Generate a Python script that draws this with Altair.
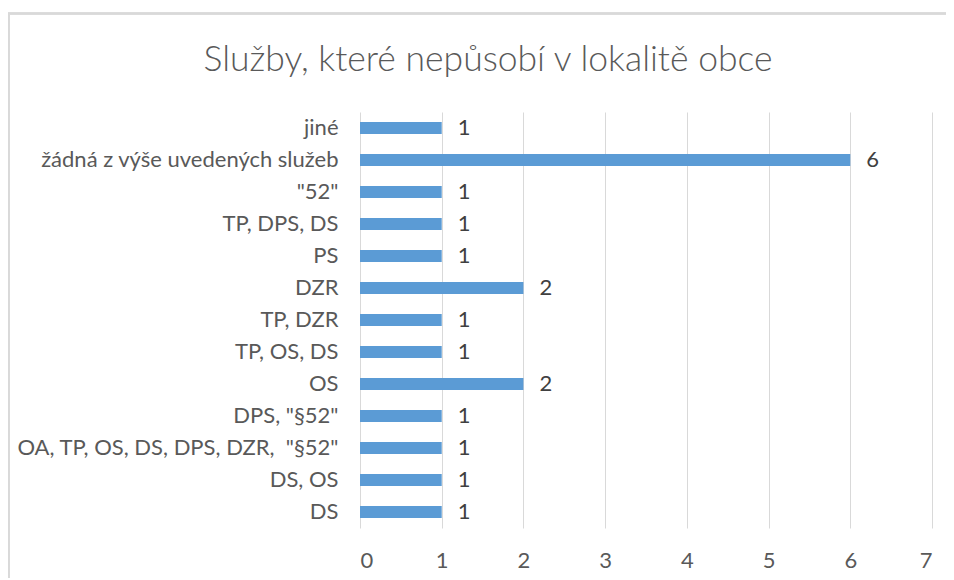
import altair as alt
import pandas as pd

title_text = "Služby, které nepůsobí v lokalitě obce"
categories = [
    "jiné",
    "žádná z výše uvedených služeb",
    '"52"',
    "TP, DPS, DS",
    "PS",
    "DZR",
    "TP, DZR",
    "TP, OS, DS",
    "OS",
    'DPS, "§52"',
    'OA, TP, OS, DS, DPS, DZR, \u00a0"§52"',
    "DS, OS",
    "DS",
]
values = [1, 6, 1, 1, 1, 2, 1, 1, 2, 1, 1, 1, 1]
x_ticks = [0, 1, 2, 3, 4, 5, 6, 7]

df = pd.DataFrame({"cat": categories, "val": values})

FONT = "Lato"
FS = 22
W, H = 572, 416
PL, PT, PR, PB = 352, 104, 14, 50

y_enc = alt.Y(
    "cat:N",
    sort=categories,
    title=None,
    scale=alt.Scale(paddingInner=0.625, paddingOuter=0.3125),
    axis=alt.Axis(
        domain=False, ticks=False, labelPadding=22, labelFontSize=FS,
        labelColor="#595959", labelFont=FONT, labelLimit=400,
    ),
)
x_enc = alt.X(
    "val:Q",
    title=None,
    scale=alt.Scale(domain=[0, 7], nice=False),
    axis=alt.Axis(
        values=x_ticks, format="d", domain=False, ticks=False, labelPadding=22,
        labelFontSize=FS, labelColor="#595959", labelFont=FONT,
        grid=True, gridColor="#d9d9d9", gridWidth=1,
    ),
)

bars = alt.Chart(df).mark_bar(color="#5B9BD5").encode(x=x_enc, y=y_enc)
labels = alt.Chart(df).mark_text(
    align="left", baseline="middle", dx=16, fontSize=FS, font=FONT, color="#404040"
).encode(x="val:Q", y=alt.Y("cat:N", sort=categories), text="val:Q")

title = alt.Chart(pd.DataFrame({"t": [title_text]})).mark_text(
    align="center", baseline="middle", fontSize=35.5, font=FONT, fontWeight=300,
    color="#595959"
).encode(x=alt.value(488 - 8 - PL), y=alt.value(60 - 8 - PT), text="t:N")

border_top = alt.Chart(df).mark_rule(color="#d9d9d9", strokeWidth=1.5).encode(
    x=alt.value(-PL), x2=alt.value(W + PR), y=alt.value(5.5 - PT)
)
border_left = alt.Chart(df).mark_rule(color="#d9d9d9", strokeWidth=1.5).encode(
    x=alt.value(0.75 - PL), y=alt.value(5.5 - PT), y2=alt.value(H + PB)
)

chart = alt.layer(bars, labels, title, border_top, border_left).properties(
    width=W,
    height=H,
    autosize=alt.AutoSizeParams(type="none"),
    padding={"left": PL, "top": PT, "right": PR, "bottom": PB},
).configure_view(stroke=None)

chart.save("out.html", embed_options={"renderer": "svg", "actions": False})
